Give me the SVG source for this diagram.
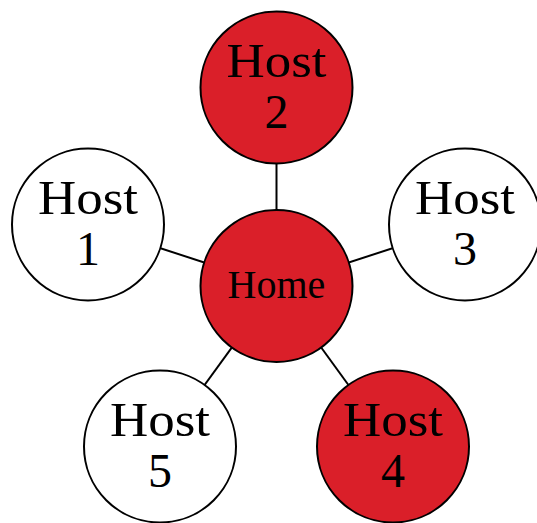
<svg xmlns="http://www.w3.org/2000/svg" width="537" height="523" viewBox="0 0 537 523">
<style>
.n{stroke:#000;stroke-width:2}
.red{fill:#DA1F29}
.white{fill:#fff}
.e{stroke:#000;stroke-width:2}
text{font-family:"Liberation Serif","Times New Roman",serif;fill:#000;text-anchor:middle}
.h{font-size:48px}
.hm{font-size:40px}
</style>
<rect width="537" height="523" fill="#fff"/>
<g id="connectors">
<line class="e" x1="276.5" y1="286" x2="276.5" y2="87"/>
<line class="e" x1="276.5" y1="286" x2="87.5" y2="224.5"/>
<line class="e" x1="276.5" y1="286" x2="465.5" y2="224.5"/>
<line class="e" x1="276.5" y1="286" x2="159.5" y2="447"/>
<line class="e" x1="276.5" y1="286" x2="393.5" y2="447"/>
</g>
<g id="home">
<circle class="n red" cx="276.5" cy="286" r="76"/>
<text class="hm" x="276.5" y="298">Home</text>
</g>
<g id="host2">
<circle class="n red" cx="276.5" cy="87.5" r="76"/>
<text class="h" x="276.5" y="77" textLength="100" lengthAdjust="spacingAndGlyphs">Host</text>
<text class="h" x="276.5" y="128">2</text>
</g>
<g id="host1">
<circle class="n white" cx="88" cy="224.5" r="76"/>
<text class="h" x="88" y="214" textLength="100" lengthAdjust="spacingAndGlyphs">Host</text>
<text class="h" x="88" y="265">1</text>
</g>
<g id="host3">
<circle class="n white" cx="465" cy="224.5" r="76"/>
<text class="h" x="465" y="214" textLength="100" lengthAdjust="spacingAndGlyphs">Host</text>
<text class="h" x="465" y="265">3</text>
</g>
<g id="host5">
<circle class="n white" cx="160" cy="446.5" r="76"/>
<text class="h" x="160" y="436" textLength="100" lengthAdjust="spacingAndGlyphs">Host</text>
<text class="h" x="160" y="487">5</text>
</g>
<g id="host4">
<circle class="n red" cx="393" cy="446.5" r="76"/>
<text class="h" x="393" y="436" textLength="100" lengthAdjust="spacingAndGlyphs">Host</text>
<text class="h" x="393" y="487">4</text>
</g>
</svg>
